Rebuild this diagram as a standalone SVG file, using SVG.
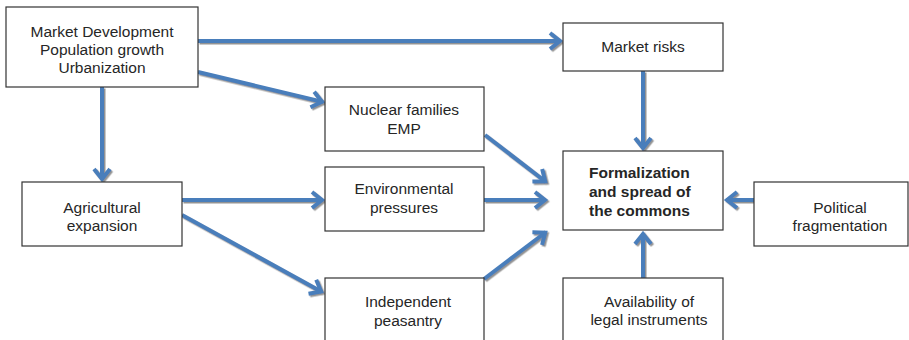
<svg xmlns="http://www.w3.org/2000/svg" width="909" height="340" viewBox="0 0 909 340">
<style>
.box{fill:#fff;stroke:#333;stroke-width:1.2}
.t{font-family:"Liberation Sans",Arial,sans-serif;font-size:15.5px;fill:#262626;text-anchor:middle}
.b{font-family:"Liberation Sans",Arial,sans-serif;font-size:15.5px;font-weight:bold;fill:#262626}
.c{stroke:#4a7ebb;stroke-width:4;fill:none;marker-end:url(#ah)}
</style>
<defs>
<marker id="ah" markerUnits="userSpaceOnUse" markerWidth="20" markerHeight="20" refX="0" refY="0" viewBox="-14 -10 16 20" orient="auto" overflow="visible">
<path d="M-11,-8 L-1,0 L-11,8" fill="none" stroke="#4a7ebb" stroke-width="4" stroke-linejoin="miter"/>
</marker>
<filter id="sh" x="-10%" y="-10%" width="120%" height="120%">
<feDropShadow dx="1.5" dy="1.5" stdDeviation="0.6" flood-color="#777" flood-opacity="0.8"/>
</filter>
</defs>
<g id="connectors" filter="url(#sh)">
<line class="c" x1="198" y1="41" x2="561" y2="41"/>
<line class="c" x1="198" y1="72" x2="323" y2="102"/>
<line class="c" x1="102" y1="87" x2="102" y2="180"/>
<line class="c" x1="182" y1="200" x2="323" y2="200"/>
<line class="c" x1="182" y1="215" x2="322" y2="292"/>
<line class="c" x1="485" y1="135" x2="546" y2="182"/>
<line class="c" x1="484" y1="200" x2="546" y2="200"/>
<line class="c" x1="484" y1="279" x2="546" y2="232"/>
<line class="c" x1="643" y1="71" x2="643" y2="149"/>
<line class="c" x1="754" y1="200" x2="726" y2="200"/>
<line class="c" x1="643" y1="278" x2="643" y2="233"/>
</g>
<g id="n1"><rect class="box" x="6" y="7" width="192" height="80"/>
<text class="t" x="102" y="37">Market Development</text><text class="t" x="102" y="55">Population growth</text><text class="t" x="102" y="73">Urbanization</text></g>
<g id="n2"><rect class="box" x="563" y="23" width="160" height="48"/><text class="t" x="643" y="52">Market risks</text></g>
<g id="n3"><rect class="box" x="325" y="87" width="159" height="64"/><text class="t" x="404" y="115">Nuclear families</text><text class="t" x="404" y="134">EMP</text></g>
<g id="n4"><rect class="box" x="325" y="167" width="159" height="64"/><text class="t" x="404" y="194">Environmental</text><text class="t" x="404" y="213">pressures</text></g>
<g id="n5"><rect class="box" x="22" y="182" width="160" height="64"/><text class="t" x="102" y="213">Agricultural</text><text class="t" x="102" y="231">expansion</text></g>
<g id="n6"><rect class="box" x="563" y="151" width="160" height="79"/><text class="b" x="589" y="178">Formalization</text><text class="b" x="589" y="197">and spread of</text><text class="b" x="589" y="216">the commons</text></g>
<g id="n7"><rect class="box" x="754" y="182" width="154" height="64"/><text class="t" x="840" y="213">Political</text><text class="t" x="840" y="231">fragmentation</text></g>
<g id="n8"><rect class="box" x="325" y="278" width="159" height="70"/><text class="t" x="408" y="307">Independent</text><text class="t" x="408" y="326">peasantry</text></g>
<g id="n9"><rect class="box" x="563" y="278" width="160" height="70"/><text class="t" x="649" y="307">Availability of</text><text class="t" x="649" y="325">legal instruments</text></g>
</svg>
